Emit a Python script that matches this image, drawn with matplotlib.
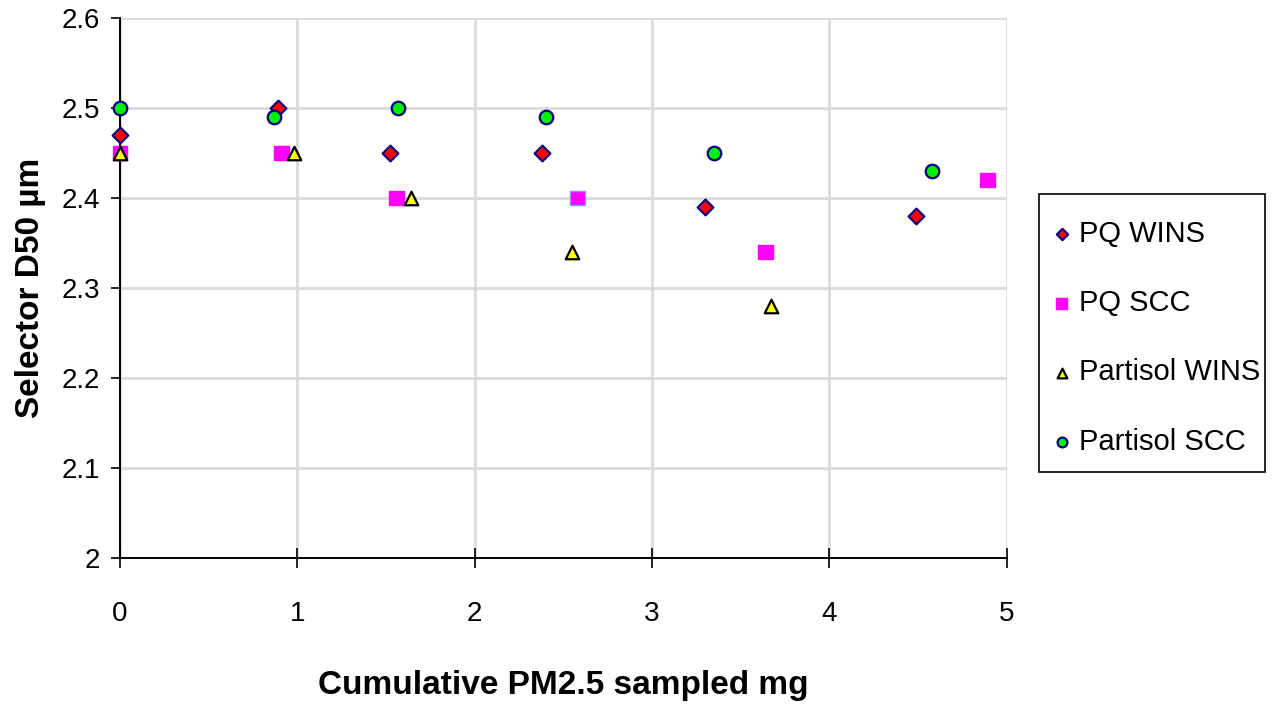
import numpy as np
import matplotlib.pyplot as plt
from matplotlib.patches import Rectangle

plt.rcParams['font.family'] = ['Liberation Sans', 'DejaVu Sans']

# values
pq_wins_x = [0.0, 0.89, 1.52, 2.38, 3.30, 4.49]
pq_wins_y = [2.47, 2.50, 2.45, 2.45, 2.39, 2.38]

pq_scc_x = [0.0, 0.91, 1.56, 2.58, 3.64, 4.89]
pq_scc_y = [2.45, 2.45, 2.40, 2.40, 2.34, 2.42]

part_wins_x = [0.0, 0.98, 1.64, 2.55, 3.67]
part_wins_y = [2.45, 2.45, 2.40, 2.34, 2.28]

part_scc_x = [0.0, 0.87, 1.57, 2.40, 3.35, 4.58]
part_scc_y = [2.50, 2.49, 2.50, 2.49, 2.45, 2.43]

y_ticks = [2.0, 2.1, 2.2, 2.3, 2.4, 2.5, 2.6]
y_ticklabels = ['2', '2.1', '2.2', '2.3', '2.4', '2.5', '2.6']
x_ticks = [0, 1, 2, 3, 4, 5]

fig = plt.figure(figsize=(12.76, 7.07), dpi=100)
ax = fig.add_axes([0.094, 0.2108, 0.695, 0.7637])

# one PQ SCC point has a bluish outline in the original
scc_edges = ['magenta'] * len(pq_scc_x)
scc_edges[3] = '#8c8cff'

ax.scatter(pq_wins_x, pq_wins_y, marker='D', s=65, c='red', edgecolors='navy',
           linewidths=1.5, label='PQ WINS', zorder=3, clip_on=False)
ax.scatter(pq_scc_x, pq_scc_y, marker='s', s=110, c='magenta', edgecolors=scc_edges,
           linewidths=1.0, label='PQ SCC', zorder=3, clip_on=False)
ax.scatter(part_wins_x, part_wins_y, marker='^', s=95, c='yellow', edgecolors='black',
           linewidths=1.6, label='Partisol WINS', zorder=4, clip_on=False)
ax.scatter(part_scc_x, part_scc_y, marker='o', s=95, c='#00ee00', edgecolors='navy',
           linewidths=1.6, label='Partisol SCC', zorder=3, clip_on=False)

ax.set_xlim(0, 5)
ax.set_ylim(2.0, 2.6)
ax.set_xticks(x_ticks)
ax.set_yticks(y_ticks)
ax.set_yticklabels(y_ticklabels)
ax.grid(True, color='#dadada', linewidth=2)
ax.set_axisbelow(True)
for s in ['top', 'right']:
    ax.spines[s].set_visible(False)
for s in ['left', 'bottom']:
    ax.spines[s].set_linewidth(1.4)
    ax.spines[s].set_zorder(2)
ax.tick_params(axis='x', direction='inout', length=14.4, width=1.2, labelsize=20, pad=24)
ax.tick_params(axis='y', direction='out', length=6.5, width=1.2, labelsize=20, pad=8)

ax.set_xlabel('Cumulative PM2.5 sampled mg', fontsize=24, fontweight='bold', labelpad=31)
ax.set_ylabel('Selector D50 µm', fontsize=24, fontweight='bold', labelpad=11)

# legend box drawn on the figure, entries placed inside without their own frame
fig.patches.append(Rectangle((1039 / 1276, 1 - 472 / 707), 226 / 1276, 278 / 707,
                             transform=fig.transFigure, fill=False,
                             edgecolor='black', linewidth=1.2))
leg = fig.legend(loc='upper left', bbox_to_anchor=(0.8252, 0.6895), fontsize=21,
                 frameon=False, labelspacing=1.42, handlelength=0.6,
                 handletextpad=0.29, borderpad=0, borderaxespad=0, markerscale=0.72)

fig.savefig('out.png', dpi=100)
